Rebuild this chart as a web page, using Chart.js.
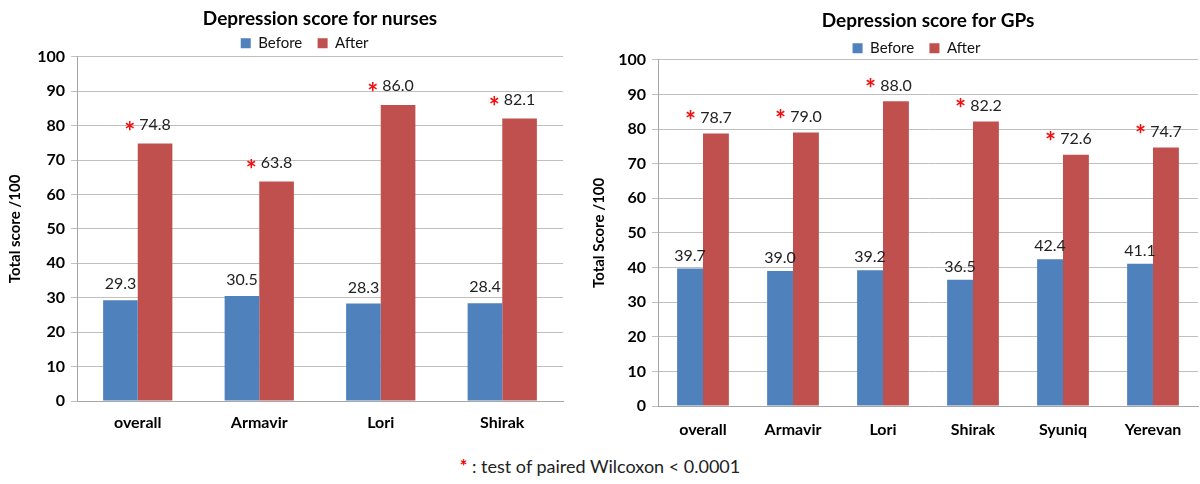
<!DOCTYPE html>
<html>
<head>
<meta charset="utf-8">
<script src="https://cdn.jsdelivr.net/npm/chart.js@4"></script>
<style>
  body { margin: 0; background: #fff; width: 1200px; height: 484px; position: relative; overflow: hidden; font-family: Lato, sans-serif; }
  #nurseChart { position: absolute; left: 0; top: 0; }
  #gpChart { position: absolute; left: 590px; top: 0; }
  #note { position: absolute; left: 0; top: 455px; width: 1200px; text-align: center; font-size: 18px; color: #222; }
  #note span { color: #e00; font-weight: bold; }
</style>
</head>
<body>
<canvas id="nurseChart" width="600" height="445"></canvas>
<canvas id="gpChart" width="610" height="452"></canvas>
<div id="note"><span>*</span> : test of paired Wilcoxon &lt; 0.0001</div>
<script>
// nurses
const nurseRegions = ['overall', 'Armavir', 'Lori', 'Shirak'];
const nurseBefore = [29.3, 30.5, 28.3, 28.4];
const nurseAfter = [74.8, 63.8, 86.0, 82.1];

// GPs
const gpRegions = ['overall', 'Armavir', 'Lori', 'Shirak', 'Syuniq', 'Yerevan'];
const gpBefore = [39.7, 39.0, 39.2, 36.5, 42.4, 41.1];
const gpAfter = [78.7, 79.0, 88.0, 82.2, 72.6, 74.7];

const yTicks = [0, 10, 20, 30, 40, 50, 60, 70, 80, 90, 100];

const BLUE = '#4F81BD';
const RED = '#C0504D';
const FONT = 'Lato, sans-serif';

// value labels above bars, red star in front of the "after" values
const barLabels = {
    id: 'barLabels',
    afterDatasetsDraw(chart) {
        const ctx = chart.ctx;
        const gap = chart.options.labelGap;
        ctx.save();
        chart.data.datasets.forEach((ds, i) => {
            const meta = chart.getDatasetMeta(i);
            meta.data.forEach((bar, j) => {
                const txt = ds.data[j].toFixed(1);
                const y = bar.y - (ds.star ? gap.after : gap.before);
                ctx.font = '16px ' + FONT;
                ctx.fillStyle = '#222';
                ctx.textAlign = 'center';
                ctx.textBaseline = 'bottom';
                ctx.fillText(txt, bar.x, y);
                if (ds.star) {
                    const w = ctx.measureText(txt).width;
                    ctx.font = 'bold 26px ' + FONT;
                    ctx.fillStyle = '#f01010';
                    ctx.textAlign = 'right';
                    ctx.fillText('*', bar.x - w / 2 - 4, y + gap.star);
                }
            });
        });
        ctx.restore();
    }
};

function makeChart(id, labels, before, after, cfg) {
    const chart = new Chart(document.getElementById(id), {
        type: 'bar',
        data: {
            labels: labels,
            datasets: [
                { label: 'Before', data: before, backgroundColor: BLUE, star: false },
                { label: 'After', data: after, backgroundColor: RED, star: true }
            ]
        },
        options: {
            responsive: false,
            animation: false,
            labelGap: cfg.labelGap,
            layout: { padding: { top: cfg.padTop, right: cfg.padRight, left: 0, bottom: 0 } },
            datasets: { bar: { categoryPercentage: cfg.catPct, barPercentage: 1.0 } },
            plugins: {
                title: {
                    display: true,
                    text: cfg.title,
                    fullSize: false,
                    color: '#000',
                    font: { family: FONT, size: 19, weight: 'bold' },
                    padding: { top: 0, bottom: cfg.titleGap }
                },
                legend: {
                    fullSize: false,
                    labels: {
                        color: '#111',
                        boxWidth: 10,
                        boxHeight: 10,
                        padding: 0,
                        font: { family: FONT, size: 15 },
                        // a little room between the two entries
                        generateLabels(c) {
                            const items = Chart.defaults.plugins.legend.labels.generateLabels(c);
                            items[0].text += '    ';
                            items[1].text += cfg.legendTail;
                            return items;
                        }
                    }
                },
                tooltip: { enabled: false }
            },
            scales: {
                x: {
                    grid: { display: false, drawTicks: false },
                    border: { color: '#a6a6a6' },
                    ticks: { color: '#000', padding: cfg.xPad, font: { family: FONT, size: 16, weight: 'bold' } },
                    afterFit(s) { s.height = cfg.xHeight; }
                },
                y: {
                    min: 0,
                    max: 100,
                    afterBuildTicks(s) { s.ticks = yTicks.map(v => ({ value: v })); },
                    grid: { color: '#bfbfbf', tickLength: 6 },
                    border: { color: '#a6a6a6' },
                    ticks: { color: '#000', padding: 6, font: { family: FONT, size: 16, weight: 'bold' } },
                    title: {
                        display: true,
                        text: cfg.yTitle,
                        color: '#000',
                        padding: { top: cfg.yTitlePad, bottom: 0 },
                        font: { family: FONT, size: 15, weight: 'bold' }
                    },
                    afterFit(s) { s.width = cfg.yWidth; }
                }
            }
        },
        plugins: [barLabels]
    });
    // pull the legend a bit closer to the plot
    const fit = chart.legend.fit;
    chart.legend.fit = function () { fit.call(this); this.height -= cfg.legendTrim; };
    chart.update();
    return chart;
}

makeChart('nurseChart', nurseRegions, nurseBefore, nurseAfter, {
    title: 'Depression score for nurses',
    yTitle: 'Total score /100',
    padTop: 7, padRight: 37, catPct: 0.57,
    titleGap: 6, legendTrim: 4, legendTail: '        ',
    xPad: 12, xHeight: 44, yWidth: 77, yTitlePad: 6,
    labelGap: { before: 8, after: 11, star: 13 }
});

makeChart('gpChart', gpRegions, gpBefore, gpAfter, {
    title: 'Depression score for GPs',
    yTitle: 'Total Score /100',
    padTop: 9, padRight: 2, catPct: 0.575,
    titleGap: 9, legendTrim: 6, legendTail: '      ',
    xPad: 14, xHeight: 46, yWidth: 68, yTitlePad: 0,
    labelGap: { before: 5, after: 8, star: 9 }
});
</script>
</body>
</html>
